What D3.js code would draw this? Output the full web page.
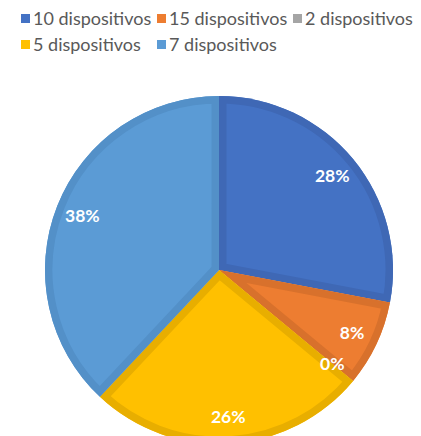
<!DOCTYPE html>
<html>
<head>
<meta charset="utf-8">
<script src="https://cdn.jsdelivr.net/npm/d3@7"></script>
<style>
  html, body { margin: 0; padding: 0; background: #fff; overflow: hidden; }
  svg { display: block; }
</style>
</head>
<body>
<svg id="chart" width="421" height="436"></svg>
<script>
// Share of households by number of devices (percent)
const categories = ["10 dispositivos", "15 dispositivos", "2 dispositivos", "5 dispositivos", "7 dispositivos"];
const values = [28, 8, 0, 26, 38];
const colors = ["#4472C4", "#ED7D31", "#A5A5A5", "#FFC000", "#5B9BD5"];
const edgeColors = ["#3F68B5", "#D8712C", "#969696", "#E8AE00", "#5390C8"];

const width = 421, height = 436;
const cx = 219, cy = 270, radius = 174;

const svg = d3.select("#chart");

const data = categories.map((c, i) => ({ name: c, value: values[i], color: colors[i], edge: edgeColors[i], idx: i }));

const pie = d3.pie().value(d => d.value).sort(null);
const arcs = pie(data);

const arc = d3.arc().innerRadius(0).outerRadius(radius);
const labelArc = d3.arc().innerRadius(147).outerRadius(147);

const g = svg.append("g").attr("transform", `translate(${cx},${cy})`);
const defs = svg.append("defs");

arcs.forEach((a, i) => {
  if (a.endAngle - a.startAngle <= 0) return;
  const d = arc(a);
  defs.append("clipPath").attr("id", "clip" + i).append("path").attr("d", d);
  // slice body
  g.append("path").attr("d", d).attr("fill", a.data.color);
  // bevelled inner edge
  g.append("path").attr("d", d)
    .attr("fill", "none")
    .attr("stroke", a.data.edge)
    .attr("stroke-width", 15)
    .attr("stroke-linejoin", "miter")
    .attr("clip-path", `url(#clip${i})`);
});

// percentage labels
g.selectAll("text.lbl")
  .data(arcs)
  .join("text")
  .attr("class", "lbl")
  .attr("transform", d => `translate(${labelArc.centroid(d)})`)
  .attr("text-anchor", "middle")
  .attr("dy", "0.35em")
  .attr("fill", "#ffffff")
  .attr("font-family", "Lato, 'Open Sans', sans-serif")
  .attr("font-weight", "bold")
  .attr("font-size", 17.5)
  .text(d => d.data.value + "%");

// legend: three columns, two rows
const legend = svg.append("g");
const colX = [21, 157, 293];
const rowY = [14, 40];
data.forEach((d, i) => {
  const x = colX[i % 3], y = rowY[Math.floor(i / 3)];
  legend.append("rect").attr("x", x).attr("y", y).attr("width", 9).attr("height", 9).attr("fill", d.color);
  legend.append("text")
    .attr("x", x + 12).attr("y", y + 4.5)
    .attr("dy", "0.35em")
    .attr("fill", "#595959")
    .attr("font-family", "Lato, 'Open Sans', sans-serif")
    .attr("font-size", 18)
    .text(d.name);
});
</script>
</body>
</html>
